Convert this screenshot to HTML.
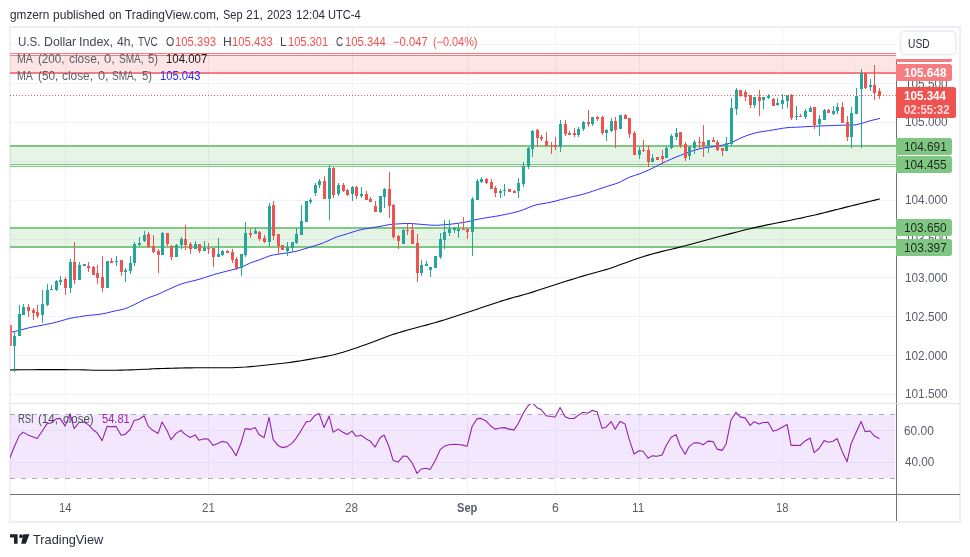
<!DOCTYPE html>
<html lang="en">
<head>
<meta charset="utf-8">
<title>U.S. Dollar Index, 4h, TVC - TradingView</title>
<style>
html,body{margin:0;padding:0;background:#fff;}
body{width:970px;height:557px;position:relative;overflow:hidden;font-family:"Liberation Sans",sans-serif;}
svg{position:absolute;left:0;top:0;width:970px;height:557px;display:block;}
.t{position:absolute;white-space:pre;transform-origin:0 50%;display:block;}
</style>
</head>
<body>
<svg id="chart" width="970" height="557" viewBox="0 0 970 557" shape-rendering="auto">
<rect x="10" y="27" width="950" height="495" fill="none" stroke="#eeeff4" stroke-width="2"/>
<rect x="10" y="44" width="886" height="1" fill="#f0f3fa"/>
<rect x="10" y="83" width="886" height="1" fill="#f0f3fa"/>
<rect x="10" y="122" width="886" height="1" fill="#f0f3fa"/>
<rect x="10" y="161" width="886" height="1" fill="#f0f3fa"/>
<rect x="10" y="200" width="886" height="1" fill="#f0f3fa"/>
<rect x="10" y="239" width="886" height="1" fill="#f0f3fa"/>
<rect x="10" y="277" width="886" height="1" fill="#f0f3fa"/>
<rect x="10" y="316" width="886" height="1" fill="#f0f3fa"/>
<rect x="10" y="355" width="886" height="1" fill="#f0f3fa"/>
<rect x="10" y="394" width="886" height="1" fill="#f0f3fa"/>
<rect x="10" y="430" width="886" height="1" fill="#f0f3fa"/>
<rect x="10" y="462" width="886" height="1" fill="#f0f3fa"/>
<rect x="65" y="28" width="1" height="466" fill="#f0f3fa"/>
<rect x="208" y="28" width="1" height="466" fill="#f0f3fa"/>
<rect x="352" y="28" width="1" height="466" fill="#f0f3fa"/>
<rect x="467" y="28" width="1" height="466" fill="#f0f3fa"/>
<rect x="555" y="28" width="1" height="466" fill="#f0f3fa"/>
<rect x="639" y="28" width="1" height="466" fill="#f0f3fa"/>
<rect x="782" y="28" width="1" height="466" fill="#f0f3fa"/>
<rect x="10" y="414.5" width="885.4" height="63.5" fill="#9628eb" fill-opacity="0.115"/>
<path d="M10 414.5H896M10 478.5H896" stroke="#adadb1" stroke-width="1" stroke-dasharray="5 6" fill="none"/>
<rect x="10" y="56" width="886" height="16" fill="#ef5350" fill-opacity="0.15"/>
<rect x="10" y="53" width="886" height="1" fill="#f8797c"/>
<rect x="10" y="55" width="886" height="1" fill="#f8797c"/>
<rect x="10" y="72" width="886" height="2" fill="#f87b80"/>
<rect x="10" y="146" width="886" height="20" fill="#4caf50" fill-opacity="0.14"/>
<rect x="10" y="145" width="886" height="2" fill="#81c784"/>
<rect x="10" y="164" width="886" height="1" fill="#81c784"/>
<rect x="10" y="166" width="886" height="1" fill="#81c784"/>
<rect x="10" y="228" width="886" height="19" fill="#4caf50" fill-opacity="0.14"/>
<rect x="10" y="227" width="886" height="2" fill="#81c784"/>
<rect x="10" y="246" width="886" height="2" fill="#81c784"/>
<clipPath id="cm"><rect x="10" y="28" width="886" height="375"/></clipPath>
<clipPath id="cr"><rect x="10" y="404" width="886" height="90"/></clipPath>
<path d="M10.0 370.0 L14.6 369.9 L19.2 369.8 L23.9 369.8 L28.5 369.7 L33.1 369.7 L37.8 369.6 L42.4 369.6 L47.0 369.6 L51.6 369.6 L56.2 369.6 L60.9 369.6 L65.5 369.6 L70.1 369.7 L74.8 369.7 L79.4 369.8 L84.0 369.9 L88.6 370.0 L93.2 370.2 L97.9 370.3 L102.5 370.3 L107.1 370.3 L111.8 370.3 L116.4 370.2 L121.0 370.1 L125.6 370.0 L130.2 369.9 L134.9 369.7 L139.5 369.5 L144.1 369.3 L148.8 369.1 L153.4 368.8 L158.0 368.6 L162.6 368.5 L167.2 368.4 L171.9 368.3 L176.5 368.1 L181.1 368.0 L185.8 367.9 L190.4 367.9 L195.0 367.8 L199.6 367.7 L204.2 367.7 L208.9 367.8 L213.5 367.8 L218.1 367.8 L222.8 367.8 L227.4 367.8 L232.0 367.7 L236.6 367.5 L241.2 367.3 L245.9 367.0 L250.5 366.6 L255.1 366.2 L259.8 365.7 L264.4 365.3 L269.0 364.8 L273.6 364.3 L278.2 363.8 L282.9 363.3 L287.5 362.7 L292.1 362.1 L296.8 361.4 L301.4 360.7 L306.0 359.9 L310.6 359.1 L315.2 358.3 L319.9 357.5 L324.5 356.6 L329.1 355.7 L333.8 354.7 L338.4 353.5 L343.0 352.2 L347.6 350.7 L352.2 349.2 L356.9 347.7 L361.5 346.1 L366.1 344.4 L370.8 342.7 L375.4 341.0 L380.0 339.2 L384.6 337.4 L389.2 335.7 L393.9 334.1 L398.5 332.7 L403.1 331.4 L407.8 330.0 L412.4 328.8 L417.0 327.5 L421.6 326.3 L426.2 325.1 L430.9 323.8 L435.5 322.5 L440.1 321.1 L444.8 319.7 L449.4 318.2 L454.0 316.7 L458.6 315.2 L463.2 313.7 L467.9 312.2 L472.5 310.7 L477.1 309.2 L481.8 307.6 L486.4 306.0 L491.0 304.4 L495.6 302.9 L500.2 301.4 L504.9 300.0 L509.5 298.6 L514.1 297.3 L518.8 296.1 L523.4 294.8 L528.0 293.5 L532.6 292.1 L537.2 290.6 L541.9 289.1 L546.5 287.5 L551.1 286.0 L555.8 284.5 L560.4 283.0 L565.0 281.5 L569.6 280.1 L574.2 278.7 L578.9 277.3 L583.5 275.9 L588.1 274.5 L592.8 273.2 L597.4 272.0 L602.0 270.7 L606.6 269.4 L611.2 267.9 L615.9 266.2 L620.5 264.5 L625.1 262.9 L629.8 261.2 L634.4 259.6 L639.0 258.0 L643.6 256.5 L648.2 255.1 L652.9 253.8 L657.5 252.6 L662.1 251.4 L666.8 250.3 L671.4 249.2 L676.0 248.1 L680.6 246.9 L685.2 245.8 L689.9 244.5 L694.5 243.3 L699.1 242.0 L703.8 240.7 L708.4 239.5 L713.0 238.2 L717.6 237.0 L722.2 235.8 L726.9 234.6 L731.5 233.4 L736.1 232.2 L740.8 231.0 L745.4 229.8 L750.0 228.7 L754.6 227.6 L759.2 226.6 L763.9 225.6 L768.5 224.6 L773.1 223.7 L777.8 222.8 L782.4 221.9 L787.0 221.0 L791.6 220.0 L796.2 219.0 L800.9 218.1 L805.5 217.0 L810.1 216.0 L814.8 215.0 L819.4 213.9 L824.0 212.8 L828.6 211.6 L833.2 210.4 L837.9 209.3 L842.5 208.1 L847.1 206.9 L851.8 205.8 L856.4 204.6 L861.0 203.5 L865.6 202.4 L870.2 201.3 L874.9 200.1 L879.5 199.0" stroke="#000000" stroke-width="1.1" fill="none" stroke-linejoin="round" stroke-linecap="round" clip-path="url(#cm)"/>
<path d="M10.0 332.2 L14.6 331.5 L19.2 330.4 L23.9 329.1 L28.5 327.9 L33.1 326.9 L37.8 326.0 L42.4 325.2 L47.0 324.2 L51.6 323.3 L56.2 322.2 L60.9 320.9 L65.5 319.5 L70.1 318.3 L74.8 317.5 L79.4 316.7 L84.0 316.0 L88.6 315.4 L93.2 315.0 L97.9 314.5 L102.5 313.8 L107.1 312.9 L111.8 311.7 L116.4 310.6 L121.0 309.8 L125.6 308.6 L130.2 306.6 L134.9 304.4 L139.5 302.0 L144.1 299.7 L148.8 297.6 L153.4 296.0 L158.0 294.3 L162.6 292.2 L167.2 290.0 L171.9 287.9 L176.5 285.8 L181.1 284.0 L185.8 282.6 L190.4 281.5 L195.0 280.4 L199.6 279.2 L204.2 277.7 L208.9 276.2 L213.5 274.7 L218.1 273.4 L222.8 272.2 L227.4 271.0 L232.0 269.9 L236.6 268.6 L241.2 267.1 L245.9 265.1 L250.5 262.9 L255.1 261.2 L259.8 259.7 L264.4 257.9 L269.0 256.1 L273.6 254.9 L278.2 254.2 L282.9 253.5 L287.5 252.9 L292.1 252.1 L296.8 251.1 L301.4 249.8 L306.0 248.4 L310.6 247.0 L315.2 245.6 L319.9 244.1 L324.5 242.4 L329.1 240.3 L333.8 238.1 L338.4 236.4 L343.0 235.1 L347.6 233.7 L352.2 232.2 L356.9 230.7 L361.5 229.6 L366.1 228.7 L370.8 227.9 L375.4 227.1 L380.0 226.4 L384.6 225.5 L389.2 224.6 L393.9 224.1 L398.5 223.9 L403.1 223.6 L407.8 223.5 L412.4 223.6 L417.0 224.0 L421.6 224.4 L426.2 224.8 L430.9 225.1 L435.5 225.3 L440.1 225.1 L444.8 224.7 L449.4 224.3 L454.0 223.8 L458.6 223.2 L463.2 222.5 L467.9 221.6 L472.5 220.5 L477.1 219.4 L481.8 218.5 L486.4 217.7 L491.0 217.0 L495.6 216.3 L500.2 215.5 L504.9 214.5 L509.5 213.6 L514.1 212.5 L518.8 211.3 L523.4 209.7 L528.0 207.8 L532.6 206.0 L537.2 204.6 L541.9 203.8 L546.5 203.1 L551.1 202.1 L555.8 201.0 L560.4 199.7 L565.0 198.6 L569.6 197.4 L574.2 196.3 L578.9 195.3 L583.5 194.1 L588.1 192.7 L592.8 191.2 L597.4 189.6 L602.0 188.1 L606.6 186.5 L611.2 185.1 L615.9 183.7 L620.5 181.8 L625.1 179.3 L629.8 177.1 L634.4 175.5 L639.0 174.0 L643.6 172.2 L648.2 170.2 L652.9 168.0 L657.5 165.6 L662.1 163.3 L666.8 161.1 L671.4 159.0 L676.0 157.1 L680.6 155.3 L685.2 153.5 L689.9 151.8 L694.5 150.2 L699.1 148.9 L703.8 147.9 L708.4 147.2 L713.0 146.7 L717.6 146.0 L722.2 145.2 L726.9 144.2 L731.5 142.7 L736.1 140.3 L740.8 138.0 L745.4 136.1 L750.0 134.5 L754.6 133.1 L759.2 132.1 L763.9 131.4 L768.5 130.7 L773.1 129.9 L777.8 129.1 L782.4 128.3 L787.0 127.7 L791.6 127.4 L796.2 127.2 L800.9 127.0 L805.5 126.7 L810.1 126.4 L814.8 126.2 L819.4 126.0 L824.0 125.8 L828.6 125.7 L833.2 125.5 L837.9 125.3 L842.5 125.2 L847.1 125.1 L851.8 125.1 L856.4 124.7 L861.0 123.6 L865.6 122.2 L870.2 120.7 L874.9 119.6 L879.5 118.5" stroke="#3030ff" stroke-width="1.0" fill="none" stroke-linejoin="round" stroke-linecap="round" clip-path="url(#cm)"/>
<path d="M9.6 458.6 L14.1 447.3 L19.1 435.9 L23.1 432.1 L28.1 435.1 L33.1 437.0 L37.1 438.5 L42.1 431.3 L47.1 423.6 L51.1 423.0 L56.1 418.9 L60.1 418.4 L65.1 426.1 L70.1 413.8 L74.1 428.7 L79.1 422.5 L84.1 422.0 L88.1 424.6 L93.1 429.7 L97.1 432.8 L102.1 440.6 L107.1 426.2 L111.1 426.9 L116.1 426.4 L121.1 435.2 L125.1 434.4 L130.1 429.5 L134.1 420.5 L139.1 419.2 L144.1 415.8 L148.1 426.1 L153.1 430.6 L158.1 433.4 L162.1 422.0 L167.1 430.8 L171.1 439.7 L176.1 433.4 L181.1 430.3 L185.1 434.4 L190.1 437.5 L195.1 434.9 L199.1 440.3 L204.1 438.7 L208.1 439.1 L213.1 445.4 L218.1 443.3 L222.1 441.4 L227.1 442.5 L232.1 449.2 L236.1 455.7 L241.1 442.8 L245.1 428.6 L250.1 429.4 L255.1 427.5 L259.1 434.7 L264.1 437.6 L269.1 417.4 L273.1 439.4 L278.1 445.6 L282.1 447.6 L287.1 446.6 L292.1 443.1 L296.1 438.3 L301.1 430.6 L306.1 421.9 L310.1 421.3 L315.1 415.2 L319.1 413.6 L324.1 427.5 L329.1 416.2 L333.1 432.2 L338.1 429.1 L343.1 432.2 L347.1 434.5 L352.1 431.1 L356.1 436.3 L361.1 435.3 L366.1 438.9 L370.1 440.9 L375.1 447.1 L380.1 437.8 L384.1 435.0 L389.1 447.0 L393.1 460.4 L398.1 462.1 L403.1 456.1 L407.1 456.3 L412.1 462.8 L417.1 473.4 L421.1 469.0 L426.1 468.2 L430.1 469.5 L435.1 460.7 L440.1 449.9 L444.1 446.3 L449.1 444.7 L454.1 444.3 L458.1 444.5 L463.1 445.1 L467.1 446.3 L472.1 426.5 L477.1 418.6 L481.1 418.4 L486.1 421.1 L491.1 426.3 L495.1 429.1 L500.1 428.0 L504.1 427.6 L509.1 429.1 L514.1 429.9 L518.1 423.7 L523.1 413.4 L528.1 405.7 L532.1 402.6 L537.1 407.7 L541.1 409.5 L546.1 415.7 L551.1 416.5 L555.1 417.0 L560.1 407.5 L565.1 416.7 L569.1 418.5 L574.1 418.5 L578.1 415.4 L583.1 412.3 L588.1 413.3 L592.1 410.4 L597.1 411.8 L602.1 428.3 L606.1 427.2 L611.1 421.6 L615.1 429.3 L620.1 421.4 L625.1 424.1 L629.1 439.1 L634.1 454.0 L639.1 450.8 L643.1 451.2 L648.1 458.3 L652.1 455.9 L657.1 456.3 L662.1 455.0 L666.1 445.7 L671.1 437.2 L676.1 434.7 L680.1 445.7 L685.1 454.3 L689.1 446.4 L694.1 442.9 L699.1 442.9 L703.1 444.7 L708.1 441.1 L713.1 441.6 L717.1 449.1 L722.1 450.4 L726.1 444.2 L731.1 419.7 L736.1 412.4 L740.1 416.9 L745.1 417.9 L750.1 425.4 L754.1 421.7 L759.1 424.1 L763.1 422.5 L768.1 422.3 L773.1 431.3 L777.1 430.0 L782.1 427.2 L787.1 424.4 L791.1 445.4 L796.1 445.2 L800.1 445.5 L805.1 440.9 L810.1 438.0 L814.1 452.6 L819.1 448.5 L824.1 440.6 L828.1 442.3 L833.1 441.3 L837.1 438.5 L842.1 451.4 L847.1 461.7 L851.1 443.7 L856.1 432.6 L861.1 421.5 L865.1 431.6 L870.1 431.0 L874.1 435.7 L879.1 438.5" stroke="#9424ad" stroke-width="1.1" fill="none" stroke-linejoin="round" stroke-linecap="round" clip-path="url(#cr)"/>
<rect x="10" y="325" width="2" height="21" fill="#f2716e"/>
<rect x="14" y="331" width="1" height="41" fill="#26a69a"/>
<rect x="13" y="336" width="3" height="10" fill="#26a69a"/>
<rect x="19" y="305" width="1" height="31" fill="#26a69a"/>
<rect x="18" y="314" width="3" height="22" fill="#26a69a"/>
<rect x="23" y="304" width="1" height="11" fill="#26a69a"/>
<rect x="22" y="307" width="3" height="8" fill="#26a69a"/>
<rect x="28" y="304" width="1" height="13" fill="#ef5350"/>
<rect x="27" y="307" width="3" height="4" fill="#ef5350"/>
<rect x="33" y="308" width="1" height="12" fill="#ef5350"/>
<rect x="32" y="310" width="3" height="3" fill="#ef5350"/>
<rect x="37" y="305" width="1" height="13" fill="#ef5350"/>
<rect x="36" y="312" width="3" height="4" fill="#ef5350"/>
<rect x="42" y="290" width="1" height="33" fill="#26a69a"/>
<rect x="41" y="304" width="3" height="11" fill="#26a69a"/>
<rect x="47" y="284" width="1" height="22" fill="#26a69a"/>
<rect x="46" y="290" width="3" height="15" fill="#26a69a"/>
<rect x="51" y="285" width="1" height="5" fill="#26a69a"/>
<rect x="50" y="289" width="3" height="1" fill="#26a69a"/>
<rect x="56" y="280" width="1" height="11" fill="#26a69a"/>
<rect x="55" y="281" width="3" height="9" fill="#26a69a"/>
<rect x="60" y="276" width="1" height="9" fill="#26a69a"/>
<rect x="59" y="280" width="3" height="2" fill="#26a69a"/>
<rect x="65" y="277" width="1" height="18" fill="#ef5350"/>
<rect x="64" y="279" width="3" height="9" fill="#ef5350"/>
<rect x="70" y="259" width="1" height="34" fill="#26a69a"/>
<rect x="69" y="262" width="3" height="26" fill="#26a69a"/>
<rect x="74" y="242" width="1" height="42" fill="#ef5350"/>
<rect x="73" y="262" width="3" height="18" fill="#ef5350"/>
<rect x="79" y="262" width="1" height="18" fill="#26a69a"/>
<rect x="78" y="265" width="3" height="15" fill="#26a69a"/>
<rect x="83" y="264" width="3" height="2" fill="#26a69a"/>
<rect x="88" y="262" width="1" height="10" fill="#ef5350"/>
<rect x="87" y="266" width="3" height="2" fill="#ef5350"/>
<rect x="93" y="266" width="1" height="9" fill="#ef5350"/>
<rect x="92" y="267" width="3" height="8" fill="#ef5350"/>
<rect x="97" y="265" width="1" height="19" fill="#ef5350"/>
<rect x="96" y="273" width="3" height="5" fill="#ef5350"/>
<rect x="102" y="256" width="1" height="36" fill="#ef5350"/>
<rect x="101" y="277" width="3" height="11" fill="#ef5350"/>
<rect x="106" y="261" width="3" height="27" fill="#26a69a"/>
<rect x="111" y="258" width="1" height="5" fill="#ef5350"/>
<rect x="110" y="261" width="3" height="2" fill="#ef5350"/>
<rect x="116" y="256" width="1" height="10" fill="#26a69a"/>
<rect x="115" y="261" width="3" height="1" fill="#26a69a"/>
<rect x="121" y="260" width="1" height="16" fill="#ef5350"/>
<rect x="120" y="260" width="3" height="12" fill="#ef5350"/>
<rect x="125" y="268" width="1" height="14" fill="#26a69a"/>
<rect x="124" y="270" width="3" height="2" fill="#26a69a"/>
<rect x="130" y="256" width="1" height="18" fill="#26a69a"/>
<rect x="129" y="263" width="3" height="8" fill="#26a69a"/>
<rect x="134" y="242" width="1" height="24" fill="#26a69a"/>
<rect x="133" y="244" width="3" height="19" fill="#26a69a"/>
<rect x="139" y="237" width="1" height="9" fill="#26a69a"/>
<rect x="138" y="243" width="3" height="2" fill="#26a69a"/>
<rect x="144" y="231" width="1" height="11" fill="#26a69a"/>
<rect x="143" y="235" width="3" height="6" fill="#26a69a"/>
<rect x="148" y="232" width="1" height="16" fill="#ef5350"/>
<rect x="147" y="234" width="3" height="13" fill="#ef5350"/>
<rect x="153" y="235" width="1" height="18" fill="#ef5350"/>
<rect x="152" y="246" width="3" height="6" fill="#ef5350"/>
<rect x="158" y="249" width="1" height="24" fill="#ef5350"/>
<rect x="157" y="251" width="3" height="4" fill="#ef5350"/>
<rect x="162" y="232" width="1" height="23" fill="#26a69a"/>
<rect x="161" y="233" width="3" height="22" fill="#26a69a"/>
<rect x="167" y="233" width="1" height="13" fill="#ef5350"/>
<rect x="166" y="233" width="3" height="11" fill="#ef5350"/>
<rect x="171" y="245" width="1" height="15" fill="#ef5350"/>
<rect x="170" y="246" width="3" height="11" fill="#ef5350"/>
<rect x="176" y="244" width="1" height="13" fill="#26a69a"/>
<rect x="175" y="245" width="3" height="12" fill="#26a69a"/>
<rect x="181" y="237" width="1" height="12" fill="#26a69a"/>
<rect x="180" y="239" width="3" height="6" fill="#26a69a"/>
<rect x="185" y="225" width="1" height="25" fill="#ef5350"/>
<rect x="184" y="239" width="3" height="6" fill="#ef5350"/>
<rect x="190" y="242" width="1" height="12" fill="#ef5350"/>
<rect x="189" y="244" width="3" height="5" fill="#ef5350"/>
<rect x="195" y="241" width="1" height="8" fill="#26a69a"/>
<rect x="194" y="244" width="3" height="5" fill="#26a69a"/>
<rect x="199" y="244" width="1" height="9" fill="#ef5350"/>
<rect x="198" y="244" width="3" height="7" fill="#ef5350"/>
<rect x="204" y="241" width="1" height="10" fill="#26a69a"/>
<rect x="203" y="248" width="3" height="3" fill="#26a69a"/>
<rect x="208" y="243" width="1" height="11" fill="#ef5350"/>
<rect x="207" y="248" width="3" height="1" fill="#ef5350"/>
<rect x="213" y="248" width="1" height="19" fill="#ef5350"/>
<rect x="212" y="248" width="3" height="9" fill="#ef5350"/>
<rect x="218" y="238" width="1" height="19" fill="#26a69a"/>
<rect x="217" y="254" width="3" height="3" fill="#26a69a"/>
<rect x="222" y="250" width="1" height="6" fill="#26a69a"/>
<rect x="221" y="251" width="3" height="4" fill="#26a69a"/>
<rect x="227" y="250" width="1" height="3" fill="#ef5350"/>
<rect x="226" y="251" width="3" height="2" fill="#ef5350"/>
<rect x="232" y="249" width="1" height="14" fill="#ef5350"/>
<rect x="231" y="252" width="3" height="8" fill="#ef5350"/>
<rect x="236" y="257" width="1" height="13" fill="#ef5350"/>
<rect x="235" y="259" width="3" height="9" fill="#ef5350"/>
<rect x="241" y="254" width="1" height="22" fill="#26a69a"/>
<rect x="240" y="254" width="3" height="14" fill="#26a69a"/>
<rect x="245" y="222" width="1" height="35" fill="#26a69a"/>
<rect x="244" y="233" width="3" height="22" fill="#26a69a"/>
<rect x="250" y="229" width="1" height="9" fill="#ef5350"/>
<rect x="249" y="233" width="3" height="2" fill="#ef5350"/>
<rect x="255" y="228" width="1" height="6" fill="#26a69a"/>
<rect x="254" y="231" width="3" height="3" fill="#26a69a"/>
<rect x="259" y="231" width="1" height="10" fill="#ef5350"/>
<rect x="258" y="232" width="3" height="7" fill="#ef5350"/>
<rect x="264" y="235" width="1" height="8" fill="#ef5350"/>
<rect x="263" y="238" width="3" height="4" fill="#ef5350"/>
<rect x="269" y="203" width="1" height="44" fill="#26a69a"/>
<rect x="268" y="206" width="3" height="36" fill="#26a69a"/>
<rect x="273" y="201" width="1" height="39" fill="#ef5350"/>
<rect x="272" y="205" width="3" height="31" fill="#ef5350"/>
<rect x="278" y="234" width="1" height="20" fill="#ef5350"/>
<rect x="277" y="234" width="3" height="12" fill="#ef5350"/>
<rect x="281" y="245" width="3" height="5" fill="#ef5350"/>
<rect x="287" y="242" width="1" height="14" fill="#26a69a"/>
<rect x="286" y="247" width="3" height="4" fill="#26a69a"/>
<rect x="292" y="242" width="1" height="10" fill="#26a69a"/>
<rect x="291" y="242" width="3" height="6" fill="#26a69a"/>
<rect x="296" y="228" width="1" height="16" fill="#26a69a"/>
<rect x="295" y="234" width="3" height="9" fill="#26a69a"/>
<rect x="301" y="205" width="1" height="30" fill="#26a69a"/>
<rect x="300" y="221" width="3" height="14" fill="#26a69a"/>
<rect x="305" y="201" width="3" height="21" fill="#26a69a"/>
<rect x="310" y="198" width="1" height="6" fill="#26a69a"/>
<rect x="309" y="200" width="3" height="2" fill="#26a69a"/>
<rect x="315" y="183" width="1" height="13" fill="#26a69a"/>
<rect x="314" y="185" width="3" height="8" fill="#26a69a"/>
<rect x="319" y="179" width="1" height="9" fill="#26a69a"/>
<rect x="318" y="181" width="3" height="4" fill="#26a69a"/>
<rect x="324" y="176" width="1" height="23" fill="#ef5350"/>
<rect x="323" y="181" width="3" height="18" fill="#ef5350"/>
<rect x="329" y="165" width="1" height="55" fill="#26a69a"/>
<rect x="328" y="168" width="3" height="31" fill="#26a69a"/>
<rect x="333" y="167" width="1" height="31" fill="#ef5350"/>
<rect x="332" y="168" width="3" height="27" fill="#ef5350"/>
<rect x="338" y="183" width="1" height="13" fill="#26a69a"/>
<rect x="337" y="185" width="3" height="9" fill="#26a69a"/>
<rect x="343" y="183" width="1" height="9" fill="#ef5350"/>
<rect x="342" y="185" width="3" height="6" fill="#ef5350"/>
<rect x="347" y="189" width="1" height="7" fill="#ef5350"/>
<rect x="346" y="190" width="3" height="5" fill="#ef5350"/>
<rect x="352" y="186" width="1" height="15" fill="#26a69a"/>
<rect x="351" y="187" width="3" height="7" fill="#26a69a"/>
<rect x="356" y="186" width="1" height="13" fill="#ef5350"/>
<rect x="355" y="187" width="3" height="9" fill="#ef5350"/>
<rect x="361" y="187" width="1" height="11" fill="#26a69a"/>
<rect x="360" y="194" width="3" height="2" fill="#26a69a"/>
<rect x="366" y="191" width="1" height="9" fill="#ef5350"/>
<rect x="365" y="194" width="3" height="6" fill="#ef5350"/>
<rect x="370" y="197" width="1" height="5" fill="#ef5350"/>
<rect x="369" y="199" width="3" height="3" fill="#ef5350"/>
<rect x="375" y="201" width="1" height="11" fill="#ef5350"/>
<rect x="374" y="206" width="3" height="6" fill="#ef5350"/>
<rect x="380" y="196" width="1" height="17" fill="#26a69a"/>
<rect x="379" y="196" width="3" height="16" fill="#26a69a"/>
<rect x="384" y="188" width="1" height="20" fill="#26a69a"/>
<rect x="383" y="189" width="3" height="8" fill="#26a69a"/>
<rect x="389" y="172" width="1" height="46" fill="#ef5350"/>
<rect x="388" y="189" width="3" height="17" fill="#ef5350"/>
<rect x="393" y="204" width="1" height="35" fill="#ef5350"/>
<rect x="392" y="205" width="3" height="32" fill="#ef5350"/>
<rect x="398" y="235" width="1" height="14" fill="#ef5350"/>
<rect x="397" y="236" width="3" height="5" fill="#ef5350"/>
<rect x="403" y="229" width="1" height="15" fill="#26a69a"/>
<rect x="402" y="230" width="3" height="14" fill="#26a69a"/>
<rect x="407" y="224" width="1" height="11" fill="#ef5350"/>
<rect x="406" y="230" width="3" height="1" fill="#ef5350"/>
<rect x="412" y="223" width="1" height="21" fill="#ef5350"/>
<rect x="411" y="230" width="3" height="14" fill="#ef5350"/>
<rect x="417" y="234" width="1" height="48" fill="#ef5350"/>
<rect x="416" y="243" width="3" height="30" fill="#ef5350"/>
<rect x="421" y="260" width="1" height="16" fill="#26a69a"/>
<rect x="420" y="265" width="3" height="8" fill="#26a69a"/>
<rect x="426" y="261" width="1" height="5" fill="#26a69a"/>
<rect x="425" y="264" width="3" height="2" fill="#26a69a"/>
<rect x="430" y="267" width="1" height="10" fill="#26a69a"/>
<rect x="429" y="267" width="3" height="3" fill="#26a69a"/>
<rect x="434" y="256" width="3" height="12" fill="#26a69a"/>
<rect x="440" y="233" width="1" height="26" fill="#26a69a"/>
<rect x="439" y="239" width="3" height="18" fill="#26a69a"/>
<rect x="444" y="220" width="1" height="29" fill="#26a69a"/>
<rect x="443" y="232" width="3" height="8" fill="#26a69a"/>
<rect x="449" y="220" width="1" height="16" fill="#26a69a"/>
<rect x="448" y="229" width="3" height="4" fill="#26a69a"/>
<rect x="454" y="227" width="1" height="6" fill="#26a69a"/>
<rect x="453" y="228" width="3" height="2" fill="#26a69a"/>
<rect x="458" y="223" width="1" height="15" fill="#26a69a"/>
<rect x="457" y="229" width="3" height="2" fill="#26a69a"/>
<rect x="463" y="217" width="1" height="13" fill="#ef5350"/>
<rect x="462" y="229" width="3" height="1" fill="#ef5350"/>
<rect x="467" y="229" width="1" height="10" fill="#ef5350"/>
<rect x="466" y="229" width="3" height="3" fill="#ef5350"/>
<rect x="472" y="197" width="1" height="59" fill="#26a69a"/>
<rect x="471" y="199" width="3" height="33" fill="#26a69a"/>
<rect x="477" y="179" width="1" height="21" fill="#26a69a"/>
<rect x="476" y="181" width="3" height="19" fill="#26a69a"/>
<rect x="481" y="177" width="1" height="6" fill="#26a69a"/>
<rect x="480" y="179" width="3" height="3" fill="#26a69a"/>
<rect x="486" y="178" width="1" height="6" fill="#ef5350"/>
<rect x="485" y="179" width="3" height="4" fill="#ef5350"/>
<rect x="491" y="179" width="1" height="10" fill="#ef5350"/>
<rect x="490" y="182" width="3" height="7" fill="#ef5350"/>
<rect x="495" y="186" width="1" height="11" fill="#ef5350"/>
<rect x="494" y="188" width="3" height="5" fill="#ef5350"/>
<rect x="500" y="189" width="1" height="9" fill="#26a69a"/>
<rect x="499" y="191" width="3" height="2" fill="#26a69a"/>
<rect x="504" y="184" width="1" height="12" fill="#26a69a"/>
<rect x="503" y="190" width="3" height="1" fill="#26a69a"/>
<rect x="508" y="189" width="3" height="3" fill="#ef5350"/>
<rect x="514" y="190" width="1" height="3" fill="#ef5350"/>
<rect x="513" y="191" width="3" height="2" fill="#ef5350"/>
<rect x="518" y="178" width="1" height="20" fill="#26a69a"/>
<rect x="517" y="183" width="3" height="8" fill="#26a69a"/>
<rect x="523" y="162" width="1" height="25" fill="#26a69a"/>
<rect x="522" y="166" width="3" height="18" fill="#26a69a"/>
<rect x="528" y="147" width="1" height="22" fill="#26a69a"/>
<rect x="527" y="148" width="3" height="18" fill="#26a69a"/>
<rect x="532" y="130" width="1" height="27" fill="#26a69a"/>
<rect x="531" y="131" width="3" height="18" fill="#26a69a"/>
<rect x="537" y="129" width="1" height="18" fill="#ef5350"/>
<rect x="536" y="130" width="3" height="8" fill="#ef5350"/>
<rect x="541" y="135" width="1" height="6" fill="#ef5350"/>
<rect x="540" y="137" width="3" height="2" fill="#ef5350"/>
<rect x="546" y="132" width="1" height="14" fill="#ef5350"/>
<rect x="545" y="141" width="3" height="5" fill="#ef5350"/>
<rect x="551" y="142" width="1" height="12" fill="#ef5350"/>
<rect x="550" y="145" width="3" height="1" fill="#ef5350"/>
<rect x="555" y="137" width="1" height="13" fill="#ef5350"/>
<rect x="554" y="145" width="3" height="2" fill="#ef5350"/>
<rect x="560" y="120" width="1" height="32" fill="#26a69a"/>
<rect x="559" y="124" width="3" height="23" fill="#26a69a"/>
<rect x="565" y="120" width="1" height="16" fill="#ef5350"/>
<rect x="564" y="124" width="3" height="10" fill="#ef5350"/>
<rect x="569" y="131" width="1" height="4" fill="#ef5350"/>
<rect x="568" y="133" width="3" height="2" fill="#ef5350"/>
<rect x="574" y="128" width="1" height="9" fill="#ef5350"/>
<rect x="573" y="133" width="3" height="2" fill="#ef5350"/>
<rect x="578" y="127" width="1" height="10" fill="#26a69a"/>
<rect x="577" y="129" width="3" height="6" fill="#26a69a"/>
<rect x="583" y="121" width="1" height="10" fill="#26a69a"/>
<rect x="582" y="122" width="3" height="7" fill="#26a69a"/>
<rect x="588" y="110" width="1" height="17" fill="#ef5350"/>
<rect x="587" y="122" width="3" height="2" fill="#ef5350"/>
<rect x="592" y="117" width="1" height="9" fill="#26a69a"/>
<rect x="591" y="117" width="3" height="7" fill="#26a69a"/>
<rect x="597" y="116" width="1" height="5" fill="#ef5350"/>
<rect x="596" y="117" width="3" height="2" fill="#ef5350"/>
<rect x="602" y="116" width="1" height="19" fill="#ef5350"/>
<rect x="601" y="117" width="3" height="16" fill="#ef5350"/>
<rect x="606" y="129" width="1" height="12" fill="#26a69a"/>
<rect x="605" y="130" width="3" height="3" fill="#26a69a"/>
<rect x="611" y="118" width="1" height="14" fill="#26a69a"/>
<rect x="610" y="121" width="3" height="10" fill="#26a69a"/>
<rect x="615" y="117" width="1" height="31" fill="#ef5350"/>
<rect x="614" y="121" width="3" height="9" fill="#ef5350"/>
<rect x="619" y="115" width="3" height="14" fill="#26a69a"/>
<rect x="625" y="114" width="1" height="5" fill="#ef5350"/>
<rect x="624" y="115" width="3" height="4" fill="#ef5350"/>
<rect x="629" y="118" width="1" height="20" fill="#ef5350"/>
<rect x="628" y="118" width="3" height="16" fill="#ef5350"/>
<rect x="634" y="131" width="1" height="24" fill="#ef5350"/>
<rect x="633" y="133" width="3" height="22" fill="#ef5350"/>
<rect x="639" y="147" width="1" height="12" fill="#26a69a"/>
<rect x="638" y="150" width="3" height="5" fill="#26a69a"/>
<rect x="643" y="140" width="1" height="12" fill="#ef5350"/>
<rect x="642" y="150" width="3" height="1" fill="#ef5350"/>
<rect x="648" y="145" width="1" height="22" fill="#ef5350"/>
<rect x="647" y="150" width="3" height="12" fill="#ef5350"/>
<rect x="652" y="154" width="1" height="8" fill="#26a69a"/>
<rect x="651" y="158" width="3" height="4" fill="#26a69a"/>
<rect x="656" y="157" width="3" height="3" fill="#ef5350"/>
<rect x="662" y="150" width="1" height="14" fill="#ef5350"/>
<rect x="661" y="156" width="3" height="3" fill="#ef5350"/>
<rect x="666" y="146" width="1" height="12" fill="#26a69a"/>
<rect x="665" y="148" width="3" height="10" fill="#26a69a"/>
<rect x="671" y="134" width="1" height="15" fill="#26a69a"/>
<rect x="670" y="136" width="3" height="12" fill="#26a69a"/>
<rect x="676" y="128" width="1" height="12" fill="#26a69a"/>
<rect x="675" y="133" width="3" height="4" fill="#26a69a"/>
<rect x="680" y="132" width="1" height="16" fill="#ef5350"/>
<rect x="679" y="132" width="3" height="14" fill="#ef5350"/>
<rect x="685" y="142" width="1" height="19" fill="#ef5350"/>
<rect x="684" y="144" width="3" height="14" fill="#ef5350"/>
<rect x="689" y="146" width="1" height="14" fill="#26a69a"/>
<rect x="688" y="147" width="3" height="9" fill="#26a69a"/>
<rect x="694" y="140" width="1" height="14" fill="#26a69a"/>
<rect x="693" y="142" width="3" height="6" fill="#26a69a"/>
<rect x="699" y="137" width="1" height="11" fill="#ef5350"/>
<rect x="698" y="142" width="3" height="1" fill="#ef5350"/>
<rect x="703" y="125" width="1" height="32" fill="#ef5350"/>
<rect x="702" y="142" width="3" height="4" fill="#ef5350"/>
<rect x="708" y="140" width="1" height="13" fill="#26a69a"/>
<rect x="707" y="140" width="3" height="6" fill="#26a69a"/>
<rect x="713" y="137" width="1" height="5" fill="#ef5350"/>
<rect x="712" y="140" width="3" height="2" fill="#ef5350"/>
<rect x="717" y="140" width="1" height="11" fill="#ef5350"/>
<rect x="716" y="142" width="3" height="8" fill="#ef5350"/>
<rect x="722" y="148" width="1" height="8" fill="#ef5350"/>
<rect x="721" y="148" width="3" height="3" fill="#ef5350"/>
<rect x="726" y="137" width="1" height="14" fill="#26a69a"/>
<rect x="725" y="143" width="3" height="8" fill="#26a69a"/>
<rect x="731" y="98" width="1" height="48" fill="#26a69a"/>
<rect x="730" y="108" width="3" height="36" fill="#26a69a"/>
<rect x="736" y="88" width="1" height="27" fill="#26a69a"/>
<rect x="735" y="90" width="3" height="19" fill="#26a69a"/>
<rect x="740" y="90" width="1" height="7" fill="#ef5350"/>
<rect x="739" y="90" width="3" height="6" fill="#ef5350"/>
<rect x="745" y="90" width="1" height="11" fill="#ef5350"/>
<rect x="744" y="92" width="3" height="5" fill="#ef5350"/>
<rect x="750" y="95" width="1" height="13" fill="#ef5350"/>
<rect x="749" y="95" width="3" height="10" fill="#ef5350"/>
<rect x="754" y="97" width="1" height="11" fill="#26a69a"/>
<rect x="753" y="97" width="3" height="8" fill="#26a69a"/>
<rect x="759" y="90" width="1" height="26" fill="#ef5350"/>
<rect x="758" y="97" width="3" height="4" fill="#ef5350"/>
<rect x="763" y="97" width="1" height="12" fill="#26a69a"/>
<rect x="762" y="97" width="3" height="3" fill="#26a69a"/>
<rect x="768" y="94" width="1" height="5" fill="#26a69a"/>
<rect x="767" y="96" width="3" height="2" fill="#26a69a"/>
<rect x="773" y="98" width="1" height="8" fill="#ef5350"/>
<rect x="772" y="99" width="3" height="7" fill="#ef5350"/>
<rect x="777" y="98" width="1" height="8" fill="#26a69a"/>
<rect x="776" y="103" width="3" height="2" fill="#26a69a"/>
<rect x="782" y="94" width="1" height="15" fill="#26a69a"/>
<rect x="781" y="100" width="3" height="4" fill="#26a69a"/>
<rect x="787" y="95" width="1" height="13" fill="#26a69a"/>
<rect x="786" y="95" width="3" height="6" fill="#26a69a"/>
<rect x="791" y="94" width="1" height="26" fill="#ef5350"/>
<rect x="790" y="95" width="3" height="23" fill="#ef5350"/>
<rect x="796" y="106" width="1" height="14" fill="#26a69a"/>
<rect x="795" y="116" width="3" height="1" fill="#26a69a"/>
<rect x="800" y="114" width="1" height="3" fill="#ef5350"/>
<rect x="799" y="116" width="3" height="1" fill="#ef5350"/>
<rect x="805" y="109" width="1" height="10" fill="#26a69a"/>
<rect x="804" y="111" width="3" height="6" fill="#26a69a"/>
<rect x="810" y="106" width="1" height="6" fill="#26a69a"/>
<rect x="809" y="108" width="3" height="4" fill="#26a69a"/>
<rect x="814" y="107" width="1" height="22" fill="#ef5350"/>
<rect x="813" y="107" width="3" height="18" fill="#ef5350"/>
<rect x="819" y="115" width="1" height="21" fill="#26a69a"/>
<rect x="818" y="119" width="3" height="5" fill="#26a69a"/>
<rect x="824" y="109" width="1" height="11" fill="#26a69a"/>
<rect x="823" y="110" width="3" height="10" fill="#26a69a"/>
<rect x="828" y="109" width="1" height="4" fill="#ef5350"/>
<rect x="827" y="110" width="3" height="3" fill="#ef5350"/>
<rect x="833" y="106" width="1" height="9" fill="#26a69a"/>
<rect x="832" y="111" width="3" height="3" fill="#26a69a"/>
<rect x="837" y="103" width="1" height="11" fill="#26a69a"/>
<rect x="836" y="107" width="3" height="4" fill="#26a69a"/>
<rect x="842" y="102" width="1" height="21" fill="#ef5350"/>
<rect x="841" y="107" width="3" height="16" fill="#ef5350"/>
<rect x="847" y="116" width="1" height="25" fill="#ef5350"/>
<rect x="846" y="122" width="3" height="15" fill="#ef5350"/>
<rect x="851" y="107" width="1" height="41" fill="#26a69a"/>
<rect x="850" y="113" width="3" height="24" fill="#26a69a"/>
<rect x="856" y="88" width="1" height="26" fill="#26a69a"/>
<rect x="855" y="96" width="3" height="18" fill="#26a69a"/>
<rect x="861" y="69" width="1" height="79" fill="#26a69a"/>
<rect x="860" y="73" width="3" height="16" fill="#26a69a"/>
<rect x="865" y="73" width="1" height="16" fill="#ef5350"/>
<rect x="864" y="73" width="3" height="15" fill="#ef5350"/>
<rect x="870" y="79" width="1" height="12" fill="#26a69a"/>
<rect x="869" y="85" width="3" height="2" fill="#26a69a"/>
<rect x="874" y="65" width="1" height="35" fill="#ef5350"/>
<rect x="873" y="85" width="3" height="8" fill="#ef5350"/>
<rect x="879" y="88" width="1" height="11" fill="#ef5350"/>
<rect x="878" y="91" width="3" height="5" fill="#ef5350"/>
<path d="M10 95.5H896" stroke="#ef5350" stroke-width="1" stroke-dasharray="1 2" fill="none"/>
<rect x="896" y="59" width="1" height="462" fill="#6f727d"/>
<rect x="10" y="494" width="950" height="1" fill="#6f727d"/>
<rect x="10" y="403" width="950" height="1" fill="#e0e3eb"/>
<g transform="translate(10,534)" fill="#1e222d"><path d="M0 0.2h7.6v9.5H4V3.5H0z"/><circle cx="11.05" cy="2.2" r="1.85"/><path d="M13.3 0.2h6.15l-3.6 9.5h-4.65z"/></g>
</svg>
<span class="t" style="left:904.84px;top:75.84px;font-size:12px;line-height:16px;color:#5a5d68;transform:scaleX(0.9833);">105.500</span>
<span class="t" style="left:904.84px;top:113.84px;font-size:12px;line-height:16px;color:#5a5d68;transform:scaleX(0.9833);">105.000</span>
<span class="t" style="left:904.84px;top:152.84px;font-size:12px;line-height:16px;color:#5a5d68;transform:scaleX(0.9833);">104.500</span>
<span class="t" style="left:904.84px;top:191.84px;font-size:12px;line-height:16px;color:#5a5d68;transform:scaleX(0.9833);">104.000</span>
<span class="t" style="left:904.84px;top:230.84px;font-size:12px;line-height:16px;color:#5a5d68;transform:scaleX(0.9833);">103.500</span>
<span class="t" style="left:904.84px;top:269.84px;font-size:12px;line-height:16px;color:#5a5d68;transform:scaleX(0.9833);">103.000</span>
<span class="t" style="left:904.84px;top:308.84px;font-size:12px;line-height:16px;color:#5a5d68;transform:scaleX(0.9833);">102.500</span>
<span class="t" style="left:904.84px;top:347.84px;font-size:12px;line-height:16px;color:#5a5d68;transform:scaleX(0.9833);">102.000</span>
<span class="t" style="left:904.84px;top:385.84px;font-size:12px;line-height:16px;color:#5a5d68;transform:scaleX(0.9833);">101.500</span>
<span class="t" style="left:904.28px;top:422.84px;font-size:12px;line-height:16px;color:#5a5d68;transform:scaleX(0.9905);">60.00</span>
<span class="t" style="left:904.66px;top:453.84px;font-size:12px;line-height:16px;color:#5a5d68;transform:scaleX(0.9778);">40.00</span>
<svg id="labels" width="970" height="557" viewBox="0 0 970 557">
<rect x="897" y="28" width="62" height="31" fill="#ffffff"/>
<path d="M896 59h56v1a2 2 0 0 1 -2 2h-54z" fill="#f77c80"/>
<path d="M896 64h53.5a2.5 2.5 0 0 1 2.5 2.5v12.0a2.5 2.5 0 0 1 -2.5 2.5h-53.5z" fill="#f77c80"/>
<path d="M896 87h57.5a2.5 2.5 0 0 1 2.5 2.5v26.0a2.5 2.5 0 0 1 -2.5 2.5h-57.5z" fill="#ef5350"/>
<path d="M896 138h53.5a2.5 2.5 0 0 1 2.5 2.5v12.0a2.5 2.5 0 0 1 -2.5 2.5h-53.5z" fill="#81c784"/>
<path d="M896 156h53.5a2.5 2.5 0 0 1 2.5 2.5v12.0a2.5 2.5 0 0 1 -2.5 2.5h-53.5z" fill="#81c784"/>
<path d="M896 219h53.5a2.5 2.5 0 0 1 2.5 2.5v12.0a2.5 2.5 0 0 1 -2.5 2.5h-53.5z" fill="#81c784"/>
<path d="M896 239h53.5a2.5 2.5 0 0 1 2.5 2.5v12.0a2.5 2.5 0 0 1 -2.5 2.5h-53.5z" fill="#81c784"/>
<rect x="900.4" y="31.2" width="55.6" height="23.4" rx="4.5" fill="#fff" stroke="#e9ebf0" stroke-width="1.5"/>
</svg>
<span class="t" style="left:9.95px;top:6.00px;font-size:13px;line-height:17px;color:#2a2e39;transform:scaleX(0.9083);">gmzern </span>
<span class="t" style="left:52.89px;top:6.00px;font-size:13px;line-height:17px;color:#2a2e39;transform:scaleX(0.9269);">published </span>
<span class="t" style="left:108.72px;top:6.00px;font-size:13px;line-height:17px;color:#2a2e39;transform:scaleX(0.8686);">on </span>
<span class="t" style="left:125.42px;top:6.00px;font-size:13px;line-height:17px;color:#2a2e39;transform:scaleX(0.9175);">TradingView.com, </span>
<span class="t" style="left:223.12px;top:6.00px;font-size:13px;line-height:17px;color:#2a2e39;transform:scaleX(0.8455);">Sep </span>
<span class="t" style="left:245.76px;top:6.00px;font-size:13px;line-height:17px;color:#2a2e39;transform:scaleX(0.9415);">21, </span>
<span class="t" style="left:266.72px;top:6.00px;font-size:13px;line-height:17px;color:#2a2e39;transform:scaleX(0.8541);">2023 </span>
<span class="t" style="left:295.76px;top:6.00px;font-size:13px;line-height:17px;color:#2a2e39;transform:scaleX(0.8932);">12:04 </span>
<span class="t" style="left:328.30px;top:6.00px;font-size:13px;line-height:17px;color:#2a2e39;transform:scaleX(0.8542);">UTC-4</span>
<span class="t" style="left:17.81px;top:33.84px;font-size:12px;line-height:16px;color:#454852;transform:scaleX(0.9637);">U.S. </span>
<span class="t" style="left:43.92px;top:33.84px;font-size:12px;line-height:16px;color:#454852;transform:scaleX(1.0257);">Dollar </span>
<span class="t" style="left:78.78px;top:33.84px;font-size:12px;line-height:16px;color:#454852;transform:scaleX(1.0426);">Index, </span>
<span class="t" style="left:116.60px;top:33.84px;font-size:12px;line-height:16px;color:#454852;transform:scaleX(1.0081);">4h, </span>
<span class="t" style="left:138.34px;top:33.84px;font-size:12px;line-height:16px;color:#454852;transform:scaleX(0.8215);">TVC</span>
<span class="t" style="left:165.90px;top:33.84px;font-size:12px;line-height:16px;color:#454852;transform:scaleX(0.8862);">O</span>
<span class="t" style="left:174.92px;top:33.84px;font-size:12px;line-height:16px;color:#ef5350;transform:scaleX(0.9452);">105.393</span>
<span class="t" style="left:223.14px;top:33.84px;font-size:12px;line-height:16px;color:#454852;transform:scaleX(1.0113);">H</span>
<span class="t" style="left:232.13px;top:33.84px;font-size:12px;line-height:16px;color:#ef5350;transform:scaleX(0.9405);">105.433</span>
<span class="t" style="left:280.16px;top:33.84px;font-size:12px;line-height:16px;color:#454852;transform:scaleX(0.9905);">L</span>
<span class="t" style="left:287.54px;top:33.84px;font-size:12px;line-height:16px;color:#ef5350;transform:scaleX(0.9242);">105.301</span>
<span class="t" style="left:335.93px;top:33.84px;font-size:12px;line-height:16px;color:#454852;transform:scaleX(0.8267);">C</span>
<span class="t" style="left:344.73px;top:33.84px;font-size:12px;line-height:16px;color:#ef5350;transform:scaleX(0.9424);">105.344</span>
<span class="t" style="left:393.16px;top:33.84px;font-size:12px;line-height:16px;color:#ef5350;transform:scaleX(0.9366);">−0.047</span>
<span class="t" style="left:433.07px;top:33.84px;font-size:12px;line-height:16px;color:#ef5350;transform:scaleX(0.9074);">(−0.04%)</span>
<span class="t" style="left:17.37px;top:50.84px;font-size:12px;line-height:16px;color:#5a5d68;transform:scaleX(0.8824);">MA </span>
<span class="t" style="left:38.42px;top:50.84px;font-size:12px;line-height:16px;color:#5a5d68;transform:scaleX(0.9686);">(200, </span>
<span class="t" style="left:68.55px;top:50.84px;font-size:12px;line-height:16px;color:#5a5d68;transform:scaleX(0.9916);">close, </span>
<span class="t" style="left:103.71px;top:50.84px;font-size:12px;line-height:16px;color:#5a5d68;transform:scaleX(1.0824);">0, </span>
<span class="t" style="left:118.53px;top:50.84px;font-size:12px;line-height:16px;color:#5a5d68;transform:scaleX(0.8398);">SMA, </span>
<span class="t" style="left:147.98px;top:50.84px;font-size:12px;line-height:16px;color:#5a5d68;transform:scaleX(0.9387);">5)</span>
<span class="t" style="left:166.12px;top:50.84px;font-size:12px;line-height:16px;color:#1a1a1a;transform:scaleX(0.9528);">104.007</span>
<span class="t" style="left:17.37px;top:67.84px;font-size:12px;line-height:16px;color:#5a5d68;transform:scaleX(0.8824);">MA </span>
<span class="t" style="left:38.41px;top:67.84px;font-size:12px;line-height:16px;color:#5a5d68;transform:scaleX(0.9801);">(50, </span>
<span class="t" style="left:62.36px;top:67.84px;font-size:12px;line-height:16px;color:#5a5d68;transform:scaleX(0.9882);">close, </span>
<span class="t" style="left:97.52px;top:67.84px;font-size:12px;line-height:16px;color:#5a5d68;transform:scaleX(1.0588);">0, </span>
<span class="t" style="left:112.33px;top:67.84px;font-size:12px;line-height:16px;color:#5a5d68;transform:scaleX(0.8398);">SMA, </span>
<span class="t" style="left:141.78px;top:67.84px;font-size:12px;line-height:16px;color:#5a5d68;transform:scaleX(0.9387);">5)</span>
<span class="t" style="left:160.23px;top:67.84px;font-size:12px;line-height:16px;color:#2a2af5;transform:scaleX(0.9357);">105.043</span>
<span class="t" style="left:18.47px;top:410.84px;font-size:12px;line-height:16px;color:#4c4f5a;transform:scaleX(0.7832);">RSI </span>
<span class="t" style="left:38.32px;top:410.84px;font-size:12px;line-height:16px;color:#4c4f5a;transform:scaleX(0.9695);">(14, </span>
<span class="t" style="left:63.27px;top:410.84px;font-size:12px;line-height:16px;color:#4c4f5a;transform:scaleX(0.9561);">close)</span>
<span class="t" style="left:102.29px;top:410.84px;font-size:12px;line-height:16px;color:#9c27b0;transform:scaleX(0.9247);">54.81</span>
<span class="t" style="left:908.45px;top:35.84px;font-size:12px;line-height:16px;color:#2a2e39;transform:scaleX(0.8545);">USD</span>
<span class="t" style="left:904.17px;top:64.84px;font-size:12px;line-height:16px;color:#ffffff;font-weight:bold;transform:scaleX(0.9775);">105.648</span>
<span class="t" style="left:904.17px;top:88.14px;font-size:12px;line-height:16px;color:#ffffff;font-weight:bold;transform:scaleX(0.9689);">105.344</span>
<span class="t" style="left:904.43px;top:101.84px;font-size:12px;line-height:16px;color:#fcdcdb;font-weight:bold;transform:scaleX(0.9464);">02:55:32</span>
<span class="t" style="left:904.04px;top:138.84px;font-size:12px;line-height:16px;color:#1e2a1e;transform:scaleX(0.9863);">104.691</span>
<span class="t" style="left:904.04px;top:156.84px;font-size:12px;line-height:16px;color:#1e2a1e;transform:scaleX(0.9833);">104.455</span>
<span class="t" style="left:904.04px;top:219.84px;font-size:12px;line-height:16px;color:#1e2a1e;transform:scaleX(0.9833);">103.650</span>
<span class="t" style="left:904.04px;top:239.84px;font-size:12px;line-height:16px;color:#1e2a1e;transform:scaleX(0.9863);">103.397</span>
<span class="t" style="left:58.88px;top:499.84px;font-size:12px;line-height:16px;color:#5a5d68;transform:scaleX(0.9402);">14</span>
<span class="t" style="left:201.60px;top:499.84px;font-size:12px;line-height:16px;color:#5a5d68;transform:scaleX(0.9567);">21</span>
<span class="t" style="left:345.29px;top:499.84px;font-size:12px;line-height:16px;color:#5a5d68;transform:scaleX(0.9796);">28</span>
<span class="t" style="left:551.96px;top:499.84px;font-size:12px;line-height:16px;color:#5a5d68;transform:scaleX(1.0182);">6</span>
<span class="t" style="left:632.14px;top:499.84px;font-size:12px;line-height:16px;color:#5a5d68;transform:scaleX(0.9818);">11</span>
<span class="t" style="left:775.99px;top:499.84px;font-size:12px;line-height:16px;color:#5a5d68;transform:scaleX(0.9250);">18</span>
<span class="t" style="left:457.45px;top:499.84px;font-size:12px;line-height:16px;color:#5a5d68;font-weight:bold;transform:scaleX(0.9231);">Sep</span>
<span class="t" style="left:33.25px;top:530.60px;font-size:13px;line-height:17px;color:#2a2e39;transform:scaleX(0.9825);">TradingView</span>
</body>
</html>
